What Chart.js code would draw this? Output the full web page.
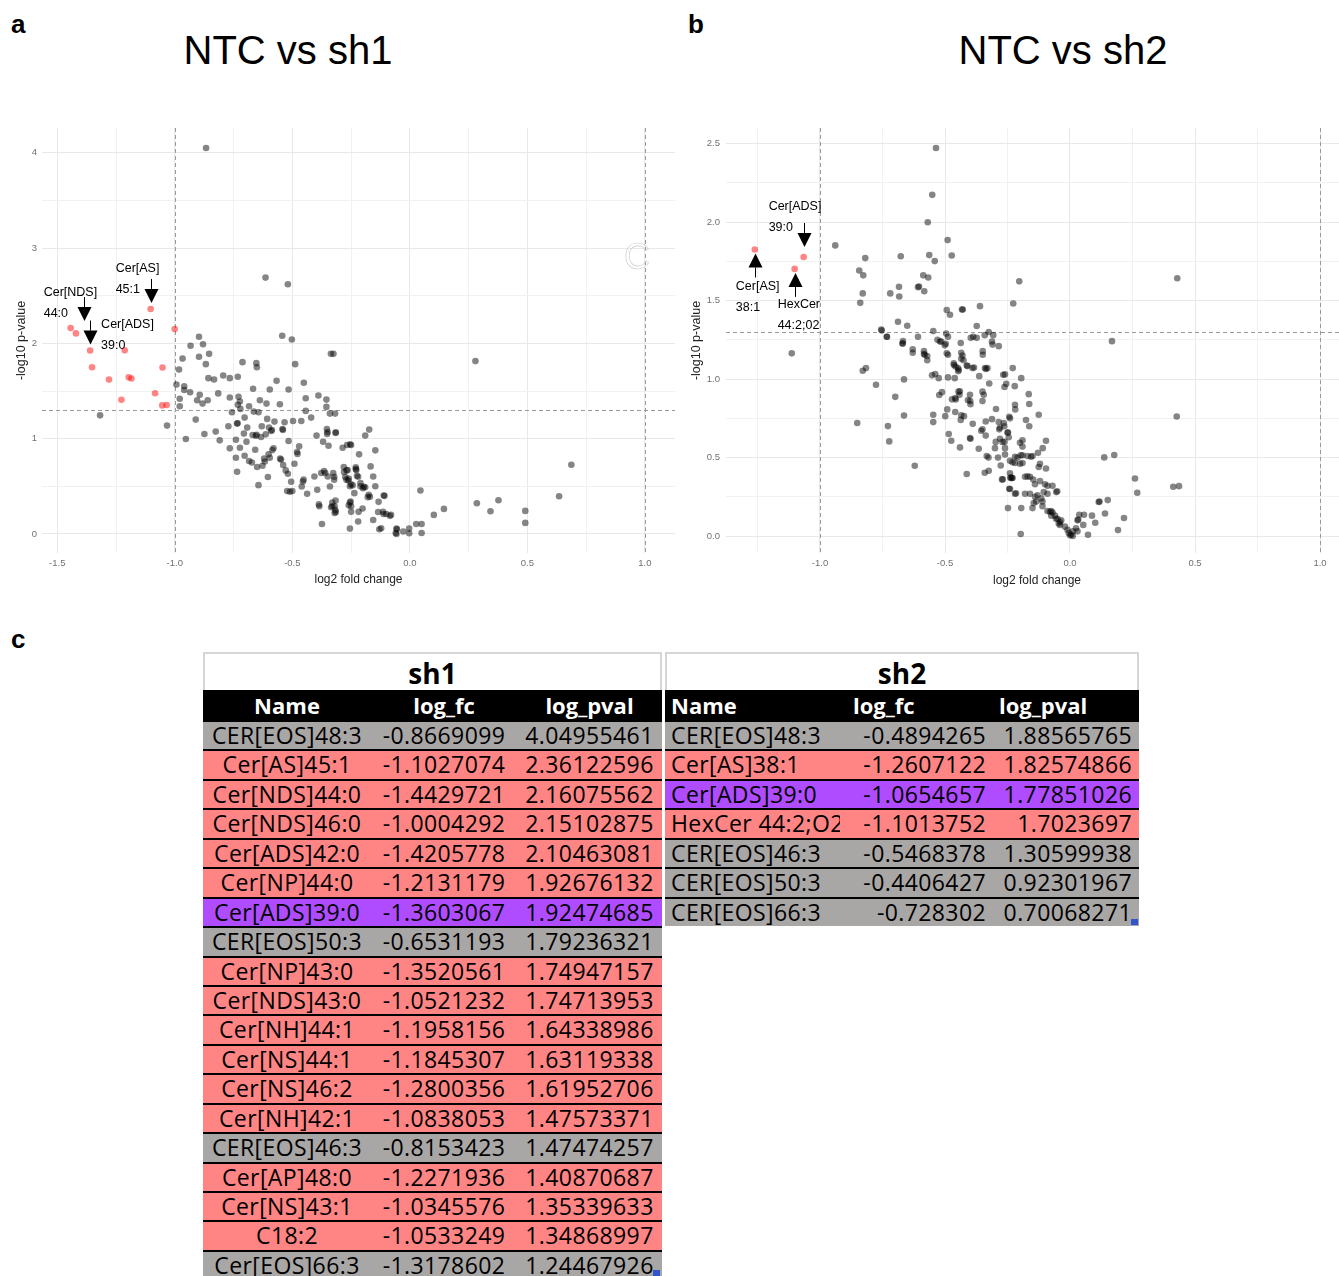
<!DOCTYPE html>
<html>
<head>
<meta charset="utf-8">
<script src="https://cdn.jsdelivr.net/npm/chart.js@4.4.1/dist/chart.umd.min.js"></script>
<style>
  html, body { margin: 0; padding: 0; background: #fff; }
  body { width: 1339px; height: 1276px; position: relative; overflow: hidden; font-family: "Liberation Sans", Arial, sans-serif; }
  .abs { position: absolute; }
  .panel { position: absolute; font-weight: bold; font-size: 26px; }
  .title { position: absolute; font-size: 40px; width: 400px; text-align: center; }
  .tbl { position: absolute; font-family: "Open Sans", sans-serif; }
  .tbl .ttl { height: 38px; box-sizing: border-box; border: 2px solid #d6d6d6; border-bottom: none; text-align: center; font-weight: bold; font-size: 28px; line-height: 38px; background: #fff; }
  .tbl .hdr { height: 30px; background: #000; color: #fff; font-weight: bold; font-size: 22px; display: flex; line-height: 30px; }
  .tbl .row { height: 29.45px; box-sizing: border-box; border-top: 2px solid #000; display: flex; font-size: 23px; letter-spacing: 0.4px; line-height: 27px; color: #000; }
  .tbl .c { box-sizing: border-box; white-space: nowrap; overflow: hidden; }
  .mark { position: absolute; width: 7px; height: 6px; background: #3355cc; }
</style>
</head>
<body>
<div class="panel" style="left:11px; top:9px;">a</div>
<div class="panel" style="left:688px; top:9px;">b</div>
<div class="panel" style="left:11px; top:624px;">c</div>
<div class="title" style="left:88px; top:28px;">NTC vs sh1</div>
<div class="title" style="left:863px; top:28px;">NTC vs sh2</div>

<div class="abs" style="left:0; top:120px;"><canvas id="chartA" width="680" height="480"></canvas></div>
<div class="abs" style="left:680px; top:120px;"><canvas id="chartB" width="672" height="480"></canvas></div>
<div class="abs" style="left:624px; top:236px; font-size:36px; color:transparent; -webkit-text-stroke:0.7px #cfcfcf;">C</div>

<div class="tbl" id="tblA" style="left:203px; top:652px; width:459px;"></div>
<div class="tbl" id="tblB" style="left:665px; top:652px; width:474px;"></div>
<div class="mark" style="left:653px; top:1270px;"></div>
<div class="mark" style="left:1131px; top:919px;"></div>

<script>
// ---- thresholds
const fcCut = 1.0;
const pCut = 1.30103; // -log10(0.05)
const highlight = 'Cer[ADS]39:0';

// ---- table c, sh1
const sh1Names = ['CER[EOS]48:3','Cer[AS]45:1','Cer[NDS]44:0','Cer[NDS]46:0','Cer[ADS]42:0','Cer[NP]44:0','Cer[ADS]39:0','CER[EOS]50:3','Cer[NP]43:0','Cer[NDS]43:0','Cer[NH]44:1','Cer[NS]44:1','Cer[NS]46:2','Cer[NH]42:1','CER[EOS]46:3','Cer[AP]48:0','Cer[NS]43:1','C18:2','Cer[EOS]66:3'];
const sh1Fc = [-0.8669099,-1.1027074,-1.4429721,-1.0004292,-1.4205778,-1.2131179,-1.3603067,-0.6531193,-1.3520561,-1.0521232,-1.1958156,-1.1845307,-1.2800356,-1.0838053,-0.8153423,-1.2271936,-1.0345576,-1.0533249,-1.3178602];
const sh1Pval = [4.04955461,2.36122596,2.16075562,2.15102875,2.10463081,1.92676132,1.92474685,1.79236321,1.74947157,1.74713953,1.64338986,1.63119338,1.61952706,1.47573371,1.47474257,1.40870687,1.35339633,1.34868997,1.24467926];

// ---- table c, sh2
const sh2Names = ['CER[EOS]48:3','Cer[AS]38:1','Cer[ADS]39:0','HexCer 44:2;O2','CER[EOS]46:3','CER[EOS]50:3','CER[EOS]66:3'];
const sh2Fc = [-0.4894265,-1.2607122,-1.0654657,-1.1013752,-0.5468378,-0.4406427,-0.728302];
const sh2Pval = [1.88565765,1.82574866,1.77851026,1.7023697,1.30599938,0.92301967,0.70068271];

// ---- remaining lipids of the volcano plots (log2 fc, -log10 p)
const sh1Other = [
  [-0.614,2.69],[-0.519,2.62],[-0.897,2.07],[-0.933,1.975],[-0.88,1.99],[-0.897,1.86],[-0.854,1.89],[-0.967,1.84],[-0.543,2.08],[-0.502,2.04],[-0.336,1.89],[-0.325,1.89],[0.279,1.814],
  [-1.033,1.137],[-0.982,1.726],[-0.993,1.568],[-0.979,1.418],[-0.979,1.34],[-0.96,1.55],[-0.96,1.51],[-0.935,1.487],[-0.868,1.782],[-0.894,1.46],[-0.905,1.403],[-0.882,1.368],[-0.86,1.403],[-0.857,1.635],[-0.833,1.62],[-0.794,1.663],[-0.766,1.635],[-0.732,1.649],[-0.712,1.803],[-0.651,1.75],
  [-0.766,1.432],[-0.729,1.439],[-0.723,1.39],[-0.721,1.312],[-0.732,1.355],[-0.757,1.277],[-0.911,1.2],[-0.953,0.997],[-0.874,1.049],[-0.826,1.074],[-0.809,0.982],[-0.772,1.13],[-0.766,0.898],[-0.735,1.158],[-0.733,1.162],[-0.74,0.989],[-0.74,0.8],[-0.735,0.653],[-0.723,0.905],[-0.703,0.821],[-0.706,1.053],[-0.692,1.116],[-0.695,0.968],[-0.703,1.221],[-0.684,1.34],[-0.684,0.765],[-0.672,0.75],
  [-0.667,1.523],[-0.664,1.284],[-0.669,1.039],[-0.658,0.884],[-0.655,1.03],[-0.652,1.04],[-0.644,1.277],[-0.644,0.512],[-0.65,0.702],[-0.638,1.403],[-0.633,1.017],[-0.63,1.13],[-0.627,0.716],[-0.62,0.79],[-0.617,0.76],[-0.61,1.368],[-0.613,1.045],[-0.607,1.207],[-0.604,0.597],[-0.599,1.116],[-0.596,1.516],[-0.601,0.835],[-0.596,0.8],[-0.59,1.08],[-0.587,1.09],[-0.585,0.88],[-0.58,0.9],[-0.576,1.179],[-0.567,1.607],[-0.553,1.361],[-0.552,0.79],[-0.548,0.78],[-0.542,1.102],[-0.54,1.09],[-0.539,0.723],[-0.533,1.172],[-0.528,0.667],
  [-0.516,0.975],[-0.516,1.516],[-0.519,0.632],[-0.522,0.45],[-0.51,0.442],[-0.505,0.547],[-0.5,0.45],[-0.497,1.186],[-0.491,0.737],[-0.488,1.782],[-0.48,0.86],[-0.478,0.84],[-0.471,0.919],[-0.462,1.186],[-0.46,0.498],[-0.455,0.55],[-0.452,0.57],[-0.451,1.586],[-0.443,1.424],[-0.443,1.291],[-0.437,0.421],[-0.42,1.221],[-0.406,0.603],[-0.397,1.032],[-0.394,0.463],[-0.389,1.453],[-0.385,0.29],[-0.387,0.31],[-0.374,0.105],[-0.377,0.639],[-0.369,0.968],[-0.365,0.66],[-0.36,0.64],
  [-0.355,1.41],[-0.355,1.333],[-0.353,1.1],[-0.35,1.07],[-0.352,1.05],[-0.349,0.603],[-0.346,0.926],[-0.34,0.498],[-0.33,0.29],[-0.335,0.28],[-0.32,0.29],[-0.326,0.64],[-0.322,0.6],[-0.322,0.57],[-0.32,0.22],[-0.317,0.25],[-0.318,1.263],[-0.316,1.06],[-0.316,0.35],[-0.315,1.067],[-0.34,1.263],
  [-0.25,0.934],[-0.254,0.94],[-0.286,0.905],[-0.267,0.934],[-0.281,0.702],[-0.275,0.597],[-0.269,0.667],[-0.255,0.33],[-0.252,0.34],[-0.255,0.5],[-0.243,0.51],[-0.255,0.056],[-0.25,0.232],[-0.236,0.428],[-0.23,0.7],[-0.228,0.67],[-0.225,0.61],[-0.218,0.232],[-0.216,0.835],[-0.21,0.533],[-0.201,0.267],[-0.196,0.495],[-0.19,0.49],[-0.19,1.032],[-0.173,1.095],[-0.179,0.386],[-0.175,0.41],[-0.17,0.39],[-0.167,0.709],[-0.156,0.603],[-0.147,0.877],[-0.156,0.147],[-0.147,0.5],[-0.133,0.337],[-0.135,0.23],[-0.13,0.05],[-0.122,0.06],[-0.112,0.21],[-0.1,0.21],[-0.108,0.4],[-0.111,0.403],[-0.114,0.232],[-0.085,0.19],[-0.08,0.2],
  [-0.28,0.65],[-0.265,0.67],[-0.23,0.68],[-0.26,0.58],[-0.262,0.56],[-0.25,0.52],[-0.27,0.57],[-0.21,0.5],[-0.2,0.48],[-0.22,0.6],[-0.33,0.33],[-0.315,0.23],[-0.26,0.3],[-0.25,0.29],[-0.22,0.13],
  [-0.055,0.05],[-0.057,0.0],[-0.06,0.01],[-0.057,0.056],[-0.028,0.025],[-0.003,0.056],[-0.003,0.007],[0.027,0.105],[0.05,0.105],[0.05,0.01],[0.045,0.456],[0.102,0.2],[0.145,0.263],[0.285,0.322],[0.377,0.354],[0.343,0.238],[0.491,0.242],[0.491,0.116],[0.635,0.396],[0.687,0.726]
];
const sh2Other = [
  [-0.536,2.473],[-0.551,2.174],[-0.569,1.999],[-0.939,1.852],[-0.819,1.771],[-0.843,1.692],[-0.827,1.661],[-0.829,1.546],[-0.839,1.486],[-0.677,1.783],[-0.563,1.79],[-0.473,1.788],[-0.541,1.752],[-0.587,1.661],[-0.567,1.647],[-0.608,1.586],[-0.604,1.59],[-0.583,1.56],[-0.684,1.588],[-0.683,1.526],[-0.719,1.546],
  [-0.688,1.365],[-0.651,1.34],[-0.753,1.31],[-0.732,1.27],[-0.668,1.243],[-0.629,1.19],[-0.608,1.27],[-0.584,1.178],[-0.53,1.25],[-0.52,1.24],[-0.515,1.24],[-0.495,1.29],[-0.488,1.27],[-0.497,1.225],[-0.493,1.164],[-0.437,1.23],[-0.429,1.444],[-0.435,1.168],[-0.493,1.44],[-0.48,1.41],[-0.397,1.263],[-0.387,1.27],[-0.373,1.263],[-0.373,1.338],[-0.36,1.465],[-0.349,1.178],[-0.341,1.28],[-0.325,1.3],[-0.307,1.28],[-0.312,1.24],[-0.285,1.21],[-0.571,1.147],[-1.113,1.164],
  [-0.203,1.623],[-0.227,1.482],[-0.432,1.444],[0.429,1.643],[0.168,1.242],
  [-0.755,1.316],[-0.733,1.27],[-0.669,1.227],[-0.581,1.155],[-0.465,1.1],[-0.458,1.08],[-0.435,1.13],[-0.41,1.083],[-0.39,1.07],
  [-0.829,1.053],[-0.816,1.07],[-0.776,0.964],[-0.699,0.887],[-0.851,0.72],[-0.723,0.603],[-0.664,0.768],[-0.664,0.998],[-0.621,0.448],[-0.629,1.168],[-0.67,1.227],[-0.584,1.16],[-0.571,1.12],[-0.552,1.024],[-0.539,1.032],[-0.547,0.773],[-0.547,0.726],[-0.525,1.006],[-0.523,0.899],[-0.512,0.917],[-0.501,1.215],[-0.488,1.155],[-0.499,0.764],[-0.488,1.011],[-0.491,0.807],[-0.485,0.65],[-0.475,0.607],[-0.472,0.871],[-0.464,1.09],[-0.461,1.006],[-0.459,0.879],[-0.457,0.87],[-0.448,1.07],[-0.445,1.06],[-0.447,1.05],[-0.459,0.79],[-0.446,0.92],[-0.442,0.9],[-0.44,0.565],[-0.437,0.74],[-0.435,0.77],[-0.43,1.15],[-0.426,1.12],[-0.424,0.764],
  [-0.413,0.395],[-0.413,1.087],[-0.408,0.866],[-0.4,0.624],[-0.398,0.62],[-0.4,0.9],[-0.398,0.84],[-0.399,0.86],[-0.389,0.715],[-0.384,1.074],[-0.365,0.556],[-0.363,1.019],[-0.355,0.671],[-0.349,1.155],[-0.35,0.92],[-0.35,0.86],[-0.345,0.9],[-0.35,0.68],[-0.34,1.07],[-0.336,1.065],[-0.33,1.07],[-0.341,0.403],[-0.325,0.416],[-0.337,0.64],[-0.337,0.73],[-0.333,0.51],[-0.326,0.5],[-0.323,0.972],[-0.312,0.745],[-0.31,1.22],[-0.3,0.56],[-0.297,0.6],[-0.296,0.81],[-0.288,0.5],[-0.285,0.726],[-0.283,0.68],[-0.28,0.69],[-0.277,0.45],[-0.272,0.361],[-0.267,1.027],[-0.263,0.7],[-0.262,0.6],[-0.26,0.52],[-0.262,0.95],[-0.248,0.178],[-0.248,0.66],[-0.24,0.4],[-0.238,0.37],[-0.24,0.3],
  [-0.229,1.07],[-0.195,1.006],[-0.221,0.955],[-0.165,0.904],[-0.163,0.841],[-0.22,0.836],[-0.219,0.807],[-0.243,0.76],[-0.125,0.773],[-0.176,0.739],[-0.163,0.7],[-0.2,0.594],[-0.096,0.607],[-0.109,0.56],[-0.128,0.53],[-0.22,0.505],[-0.197,0.515],[-0.19,0.515],[-0.17,0.51],[-0.156,0.505],[-0.22,0.465],[-0.19,0.465],[-0.125,0.44],[-0.096,0.43],[-0.237,0.374],[-0.232,0.37],[-0.18,0.378],[-0.16,0.378],[-0.147,0.36],[-0.12,0.35],[-0.1,0.33],[-0.07,0.32],[-0.269,0.361],[-0.243,0.301],[-0.216,0.272],[-0.18,0.27],[-0.16,0.27],[-0.14,0.25],[-0.135,0.22],[-0.11,0.22],[-0.115,0.24],[-0.051,0.285],[-0.09,0.27],[-0.11,0.19],[-0.09,0.16],[-0.075,0.16],[-0.06,0.13],[-0.05,0.11],[-0.04,0.09],[-0.195,0.178],[-0.15,0.178],[-0.197,0.013],[-0.02,0.06],[-0.01,0.04],[-0.005,0.02],[0.0,0.005],[0.012,0.03],
  [0.427,0.762],[0.137,0.501],[0.177,0.516],[0.26,0.367],[0.269,0.276],[0.413,0.314],[0.436,0.318],[0.115,0.217],[0.118,0.22],[0.151,0.229],[0.14,0.144],[0.216,0.115],[0.192,0.038],[0.088,0.13],[0.101,0.085],[0.037,0.136],[0.056,0.136],[0.03,0.1],[0.033,0.105],[0.053,0.071],[0.024,0.05],[0.03,0.03],[0.072,0.008],[0.011,0.0],[0.005,0.01],[-0.056,0.11],[-0.045,0.08],[-0.035,0.1],[-0.04,0.07],[-0.07,0.15],[-0.08,0.155],[-0.075,0.13],
  [-0.26,1.03],[-0.255,0.97],[-0.24,0.75],[-0.265,0.72],[-0.25,0.66],[-0.245,0.63],[-0.19,0.61],[-0.19,0.57],[-0.15,0.51],[-0.21,0.5],[-0.12,0.46],[-0.26,0.56],[-0.27,0.6],[-0.28,0.62],[-0.24,0.48],[-0.23,0.47],[-0.2,0.46],[-0.17,0.38],[-0.14,0.33],[-0.09,0.32],[-0.13,0.26],[-0.105,0.28],[-0.055,0.28],[-0.22,0.27],[-0.145,0.21],[-0.23,0.37]
];

// ---- labelled lipids
const sh1Labels = [
  { name: 'Cer[AS]45:1', text: ['Cer[AS]', '45:1'], dir: 'down', ax: 0, tip: -6, tx: -35, ty: -40 },
  { name: 'Cer[NDS]44:0', text: ['Cer[NDS]', '44:0'], dir: 'down', ax: 13, tip: -7, tx: -27, ty: -35 },
  { name: 'Cer[ADS]39:0', text: ['Cer[ADS]', '39:0'], dir: 'down', ax: 0, tip: -6, tx: 11, ty: -26 }
];
const sh2Labels = [
  { name: 'Cer[ADS]39:0', text: ['Cer[ADS]', '39:0'], dir: 'down', ax: 0, tip: -10, tx: -35, ty: -50 },
  { name: 'Cer[AS]38:1', text: ['Cer[AS]', '38:1'], dir: 'up', ax: 0, tip: 4, tx: -19, ty: 37 },
  { name: 'HexCer 44:2;O2', text: ['HexCer', '44:2;02'], dir: 'up', ax: 0, tip: 4, tx: -17, ty: 36 }
];

const isSig = (fc, p) => Math.abs(fc) > fcCut && p > pCut;

const refLines = {
  id: 'refLines',
  beforeDatasetsDraw(chart) {
    const { ctx, chartArea: a, scales: { x, y } } = chart;
    ctx.save();
    ctx.strokeStyle = '#9a9a9a';
    ctx.lineWidth = 1;
    ctx.setLineDash([4, 3]);
    [-fcCut, fcCut].forEach(v => {
      const px = Math.round(x.getPixelForValue(v)) + 0.5;
      ctx.beginPath(); ctx.moveTo(px, a.top); ctx.lineTo(px, a.bottom); ctx.stroke();
    });
    const py = Math.round(y.getPixelForValue(pCut)) + 0.5;
    ctx.beginPath(); ctx.moveTo(a.left, py); ctx.lineTo(a.right, py); ctx.stroke();
    ctx.restore();
  }
};

const arrowLabels = {
  id: 'arrowLabels',
  afterDatasetsDraw(chart, args, opts) {
    const { ctx, scales: { x, y } } = chart;
    ctx.save();
    ctx.fillStyle = '#000';
    ctx.strokeStyle = '#000';
    ctx.lineWidth = 1;
    ctx.font = '12.5px "Liberation Sans", Arial, sans-serif';
    ctx.textBaseline = 'middle';
    ctx.textAlign = 'left';
    opts.items.forEach(it => {
      const i = opts.names.indexOf(it.name);
      const px = x.getPixelForValue(opts.fc[i]);
      const py = y.getPixelForValue(opts.p[i]);
      const axp = Math.round(px + it.ax) + 0.5;
      const tipY = py + it.tip;
      const s = it.dir === 'down' ? -1 : 1;
      const baseY = tipY + s * 14;
      ctx.beginPath();
      ctx.moveTo(axp, tipY); ctx.lineTo(axp - 7, baseY); ctx.lineTo(axp + 7, baseY); ctx.closePath();
      ctx.fill();
      ctx.beginPath(); ctx.moveTo(axp, baseY); ctx.lineTo(axp, baseY + s * 10); ctx.stroke();
      ctx.fillText(it.text[0], px + it.tx, py + it.ty);
      ctx.fillText(it.text[1], px + it.tx, py + it.ty + 21);
    });
    ctx.restore();
  }
};

const near = (v, step) => Math.abs(v / step - Math.round(v / step)) < 1e-6;
const noPad = s => { s.paddingTop = 0; s.paddingBottom = 0; s.paddingLeft = 0; s.paddingRight = 0; };

function volcano(id, other, names, fc, p, labels, lim) {
  const grayPts = other.map(([a, b]) => ({ x: a, y: b }));
  const redPts = [];
  names.forEach((n, i) => {
    (isSig(fc[i], p[i]) ? redPts : grayPts).push({ x: fc[i], y: p[i] });
  });
  return new Chart(document.getElementById(id).getContext('2d'), {
    type: 'scatter',
    data: {
      datasets: [
        { data: grayPts, backgroundColor: 'rgba(0,0,0,0.48)', pointRadius: 3.3, pointBorderWidth: 0, order: 1 },
        { data: redPts, backgroundColor: 'rgba(255,0,0,0.48)', pointRadius: 3.3, pointBorderWidth: 0, order: 0 }
      ]
    },
    options: {
      responsive: false,
      animation: false,
      devicePixelRatio: 1,
      layout: { padding: { top: 8, right: lim.padRight, left: 0, bottom: 0 } },
      plugins: {
        legend: { display: false },
        tooltip: { enabled: false },
        arrowLabels: { items: labels, names: names, fc: fc, p: p }
      },
      scales: {
        x: {
          type: 'linear',
          min: lim.xMin, max: lim.xMax,
          afterFit(s) { s.height = 47; noPad(s); },
          border: { display: false },
          grid: {
            drawTicks: false,
            color: c => near(c.tick.value, 0.5) ? '#e8e8e8' : '#f1f1f1'
          },
          ticks: {
            stepSize: 0.25, includeBounds: false, autoSkip: false, maxRotation: 0,
            padding: 5, color: '#707070',
            font: { family: '"Liberation Sans", Arial, sans-serif', size: 9.5 },
            callback: v => near(v, 0.5) ? v.toFixed(1) : ''
          },
          title: {
            display: true, text: 'log2 fold change', color: '#222',
            font: { family: '"Liberation Sans", Arial, sans-serif', size: 12 },
            padding: { top: 0, bottom: lim.xTitlePad }
          }
        },
        y: {
          type: 'linear',
          min: lim.yMin, max: lim.yMax,
          afterFit(s) { s.width = lim.yWidth; noPad(s); },
          border: { display: false },
          grid: {
            drawTicks: false,
            color: c => near(c.tick.value, lim.yMajor) ? '#e8e8e8' : '#f1f1f1'
          },
          ticks: {
            stepSize: lim.yMajor / 2, includeBounds: false, autoSkip: false,
            padding: lim.yTickPad, color: '#707070',
            font: { family: '"Liberation Sans", Arial, sans-serif', size: 9.5 },
            callback: v => near(v, lim.yMajor) ? (lim.yMajor < 1 ? v.toFixed(1) : String(v)) : ''
          },
          title: {
            display: true, text: '-log10 p-value', color: '#222',
            font: { family: '"Liberation Sans", Arial, sans-serif', size: 12.5 },
            padding: { top: lim.yTitlePad, bottom: 0 }
          }
        }
      }
    },
    plugins: [refLines, arrowLabels]
  });
}

volcano('chartA', sh1Other, sh1Names, sh1Fc, sh1Pval, sh1Labels,
  { xMin: -1.565, xMax: 1.128, yMin: -0.2, yMax: 4.26, yMajor: 1, yWidth: 42, yTickPad: 5, yTitlePad: 14.5, xTitlePad: 13.5, padRight: 5 });
volcano('chartB', sh2Other, sh2Names, sh2Fc, sh2Pval, sh2Labels,
  { xMin: -1.376, xMax: 1.112, yMin: -0.108, yMax: 2.6, yMajor: 0.5, yWidth: 46, yTickPad: 6, yTitlePad: 9.5, xTitlePad: 12.5, padRight: 0 });

// ---- tables
function rowColor(name, fc, p) {
  if (name === highlight) return '#b04cff';
  return isSig(fc, p) ? '#ff8585' : '#a9a6a6';
}
function buildTable(elId, title, names, fc, p, cols, align) {
  const el = document.getElementById(elId);
  let html = '<div class="ttl">' + title + '</div><div class="hdr">';
  ['Name', 'log_fc', 'log_pval'].forEach((h, k) => {
    html += '<div class="c" style="width:' + cols[k] + 'px;text-align:' + align.head[k] + ';padding-left:' + align.headPad[k] + 'px">' + h + '</div>';
  });
  html += '</div>';
  names.forEach((n, i) => {
    html += '<div class="row" style="background:' + rowColor(n, fc[i], p[i]) + '">';
    [n, String(fc[i]), String(p[i])].forEach((t, k) => {
      html += '<div class="c" style="width:' + cols[k] + 'px;text-align:' + align.body[k] + ';padding:0 ' + align.bodyPadR[k] + 'px 0 ' + align.bodyPadL[k] + 'px">' + t + '</div>';
    });
    html += '</div>';
  });
  el.innerHTML = html;
}
buildTable('tblA', 'sh1', sh1Names, sh1Fc, sh1Pval, [168, 146, 145],
  { head: ['center', 'center', 'center'], headPad: [0, 0, 0], body: ['center', 'center', 'center'], bodyPadL: [0, 0, 0], bodyPadR: [0, 0, 0] });
buildTable('tblB', 'sh2', sh2Names, sh2Fc, sh2Pval, [175, 150, 149],
  { head: ['left', 'left', 'left'], headPad: [6, 13, 9], body: ['left', 'right', 'right'], bodyPadL: [6, 0, 0], bodyPadR: [0, 4, 7] });
</script>
</body>
</html>
